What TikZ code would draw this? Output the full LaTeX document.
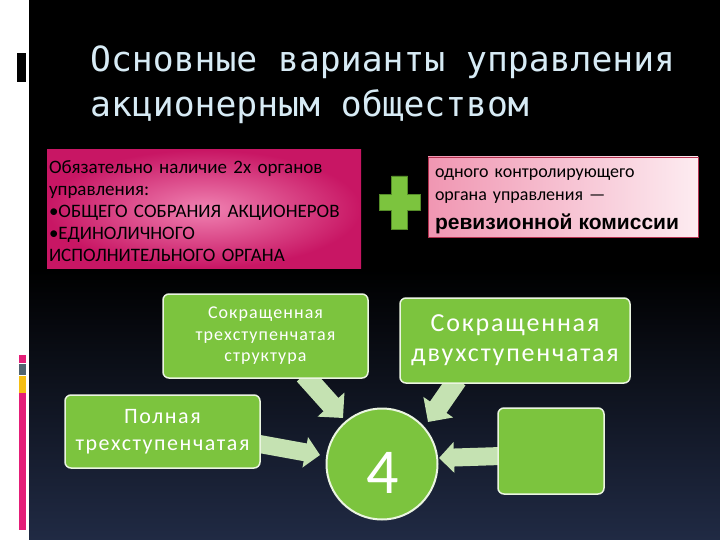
\documentclass[tikz,border=0pt]{standalone}
\usepackage{fontspec}
\setmainfont{Carlito}
\newfontfamily\titlefont{DejaVu Sans Mono}
\newfontfamily\revfont{Liberation Sans}
\newfontfamily\spacedA{Carlito}[LetterSpace=6]
\newfontfamily\spacedB{Carlito}[LetterSpace=7]
\usetikzlibrary{arrows.meta,calc}
\definecolor{bgblue}{RGB}{88,112,165}
\definecolor{bgmid}{RGB}{32,42,68}
\definecolor{titlecol}{RGB}{215,235,245}
\definecolor{mag}{RGB}{200,22,100}
\definecolor{pinklight}{RGB}{240,130,178}
\definecolor{pinkA}{RGB}{240,150,178}
\definecolor{pinkB}{RGB}{253,236,241}
\definecolor{pinkedge}{RGB}{180,50,80}
\definecolor{grn}{RGB}{124,196,62}
\definecolor{grnedge}{RGB}{235,245,225}
\definecolor{arrowgrn}{RGB}{197,226,178}
\definecolor{plusedge}{RGB}{85,140,40}
\definecolor{barpink}{RGB}{228,30,120}
\definecolor{bargray}{RGB}{80,100,112}
\definecolor{baryellow}{RGB}{245,190,20}
\pgfdeclareverticalshading{slidebg}{100bp}{color(0bp)=(bgblue); color(25bp)=(bgmid); color(50bp)=(black); color(100bp)=(black)}
\begin{document}
\begin{tikzpicture}[x=1pt,y=-1pt,
  greenbox/.style={draw=grnedge, line width=1.5pt, fill=grn, rounded corners=6pt,
    text=white, align=center, inner sep=0pt},
  bigarrow/.style={draw=arrowgrn, line width=20pt, -{Triangle[length=18pt,width=35pt]}},
  midarrow/.style={draw=arrowgrn, line width=18pt, -{Triangle[length=15pt,width=30pt]}},
  titletext/.style={anchor=base west, inner sep=0pt, text=titlecol,
    font=\titlefont\fontsize{34.7}{45}\selectfont}]
% background
\useasboundingbox (0,0) rectangle (720,540);
\fill[white] (0,0) rectangle (720,540);
\shade[shading=slidebg] (29,0) rectangle (720,540);
% left strip marks
\fill[black] (17,53) rectangle (26,82);
\fill[barpink] (19,355) rectangle (26,363);
\fill[bargray] (19,364) rectangle (26,375);
\fill[baryellow] (19,376) rectangle (26,393);
\fill[barpink] (19,393) rectangle (26,530);
% title
\node[titletext] (t1) at (90,72) {Основные варианты управления};
\node[titletext] (t2) at (90,117) {акционерным обществом};
% pink box 1
\node[shading=radial, inner color=pinklight, outer color=mag,
  minimum width=314pt, minimum height=118pt, inner xsep=2pt, inner ysep=0pt,
  text width=310pt, align=left, font=\fontsize{19}{22}\selectfont] (box1) at (204,209)
  {\rule{0pt}{17pt}Обязательно наличие 2х органов\\управления:\\•ОБЩЕГО СОБРАНИЯ АКЦИОНЕРОВ\\•ЕДИНОЛИЧНОГО\\ИСПОЛНИТЕЛЬНОГО ОРГАНА};
% plus
\filldraw[fill=grn, draw=plusedge, line width=0.8pt]
  (391.5,176) -- (407.5,176) -- (407.5,194.5) -- (420,194.5) -- (420,210.5) -- (407.5,210.5)
  -- (407.5,229) -- (391.5,229) -- (391.5,210.5) -- (379,210.5) -- (379,194.5) -- (391.5,194.5) -- cycle;
% pink box 2
\node[left color=pinkA, right color=pinkB, draw=pinkedge, line width=0.6pt,
  minimum width=270pt, minimum height=80pt, inner xsep=7pt, inner ysep=0pt,
  text width=256pt, align=left, font=\fontsize{18}{23}\selectfont] (box2) at (563,197)
  {\rule{0pt}{17pt}одного контролирующего\\органа управления —\\[6pt]{\revfont\bfseries\fontsize{21}{26}\selectfont ревизионной комиссии}};
% green nodes
\coordinate (cc) at (382,464);
\tikzset{
  boxAstyle/.style={greenbox, minimum width=205pt, minimum height=84pt, font=\spacedA\fontsize{18}{21.5}\selectfont},
  boxBstyle/.style={greenbox, minimum width=230pt, minimum height=85pt, font=\spacedB\fontsize{26}{30}\selectfont},
  boxCstyle/.style={greenbox, minimum width=195pt, minimum height=73pt, font=\spacedB\fontsize{22}{27}\selectfont},
  boxDstyle/.style={greenbox, minimum width=106pt, minimum height=86pt}}
\coordinate (pA) at (265.5,336);
\coordinate (pB) at (515,340.5);
\coordinate (pC) at (162.5,431.5);
\coordinate (pD) at (551,451);
% box outlines used as anchors for the arrows
\path (pA) node[boxAstyle, opacity=0] (boxA) {}
      (pB) node[boxBstyle, opacity=0] (boxB) {}
      (pC) node[boxCstyle, opacity=0] (boxC) {}
      (pD) node[boxDstyle, opacity=0] (boxD) {};
\coordinate (s1) at ($(boxA.south west)+(142,-4)$);
\coordinate (e1) at ($(cc)+(-39,-46)$);
\coordinate (s2) at ($(boxB.south west)+(58,-4)$);
\coordinate (e2) at ($(cc)+(46,-42)$);
\coordinate (s3) at ($(boxC.east)+(-4,12)$);
\coordinate (e3) at ($(cc)+(-62,-9)$);
\coordinate (s4) at ($(boxD.west)+(4,5)$);
\coordinate (e4) at ($(cc)+(57,-6)$);
\draw[bigarrow] (s1) -- (e1);
\draw[bigarrow] (s2) -- (e2);
\draw[midarrow] (s3) -- (e3);
\draw[midarrow] (s4) -- (e4);
% boxes
\node[boxAstyle] (boxA2) at (pA) {Сокращенная\\трехступенчатая\\структура};
\node[boxBstyle] (boxB2) at (pB) {Сокращенная\\двухступенчатая};
\node[boxCstyle] (boxC2) at (pC) {Полная\\трехступенчатая};
\node[boxDstyle] (boxD2) at (pD) {};
% circle
\node[circle, draw=grnedge, line width=2pt, fill=grn, minimum size=111pt, inner sep=0pt] (circ) at (cc) {};
\node[text=white, inner sep=0pt, font=\fontsize{64}{64}\selectfont] (four) at ($(circ.center)+(1,9)$) {4};
\end{tikzpicture}
\end{document}
